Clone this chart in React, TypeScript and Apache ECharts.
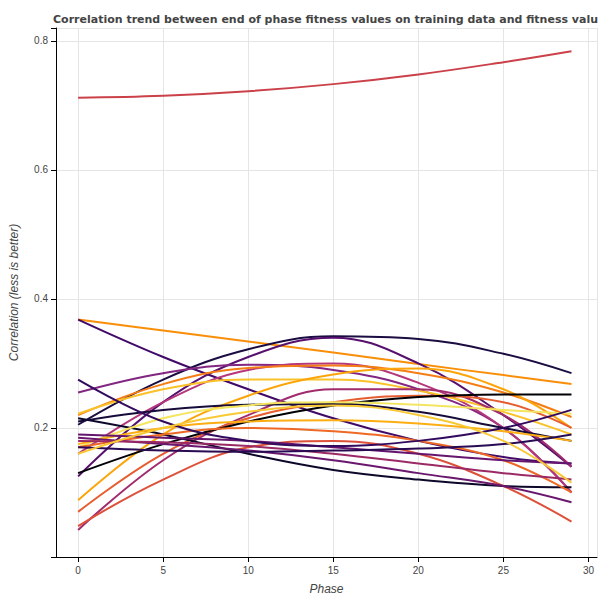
import React, { useEffect, useRef } from "react";
import * as echarts from "echarts";

const phases = [0, 5, 10, 15, 20, 25, 29];
const lineValues: number[][] = [
  [0.712, 0.715, 0.722, 0.733, 0.748, 0.767, 0.784],
  [0.368, 0.351, 0.334, 0.317, 0.299, 0.282, 0.268],
  [0.368, 0.31, 0.26, 0.215, 0.18, 0.155, 0.145],
  [0.205, 0.275, 0.322, 0.342, 0.338, 0.315, 0.285],
  [0.125, 0.24, 0.31, 0.34, 0.3, 0.22, 0.14],
  [0.255, 0.285, 0.298, 0.29, 0.26, 0.2, 0.1],
  [0.16, 0.24, 0.29, 0.3, 0.27, 0.2, 0.1],
  [0.22, 0.268, 0.293, 0.297, 0.285, 0.255, 0.217],
  [0.222, 0.26, 0.275, 0.275, 0.258, 0.225, 0.19],
  [0.088, 0.19, 0.25, 0.283, 0.292, 0.26, 0.2],
  [0.042, 0.15, 0.22, 0.26, 0.26, 0.22, 0.14],
  [0.07, 0.16, 0.215, 0.24, 0.25, 0.24, 0.2],
  [0.048, 0.12, 0.17, 0.18, 0.16, 0.11, 0.055],
  [0.13, 0.175, 0.21, 0.235, 0.248, 0.252, 0.252],
  [0.215, 0.19, 0.16, 0.135, 0.12, 0.11, 0.108],
  [0.21, 0.228, 0.236, 0.237, 0.225, 0.2, 0.18],
  [0.17, 0.215, 0.235, 0.24, 0.236, 0.228, 0.222],
  [0.175, 0.2, 0.21, 0.212, 0.207, 0.195, 0.18],
  [0.17, 0.19, 0.2, 0.195, 0.18, 0.15, 0.1],
  [0.19, 0.185, 0.18, 0.17, 0.16, 0.15, 0.145],
  [0.275, 0.21, 0.18, 0.172, 0.18, 0.2, 0.228],
  [0.185, 0.175, 0.165, 0.15, 0.13, 0.11, 0.085],
  [0.18, 0.178, 0.172, 0.16, 0.145, 0.13, 0.12],
  [0.17, 0.165, 0.163, 0.165, 0.168, 0.175, 0.19],
  [0.16, 0.2, 0.225, 0.235, 0.22, 0.18, 0.115],
];
const lineColors = [
  "#cb4149", "#f98e09", "#420a68", "#1b0c41", "#57106e", "#822681", "#b5367a",
  "#f57d15", "#fac228", "#fca50a", "#a02c6e", "#e65d2f", "#dd513a", "#000004",
  "#0d0829", "#160b39", "#f3e55d", "#fcae12", "#ed6925", "#65156e", "#320a5e",
  "#6a176e", "#9b2964", "#280b53", "#f8c932",
];

export default function App() {
  const ref = useRef<HTMLDivElement>(null);
  useEffect(() => {
    document.body.style.margin = "0";
    const chart = echarts.init(ref.current!, null, { renderer: "svg" });
    chart.setOption({
      animation: false,
      title: {
        text: "Correlation trend between end of phase fitness values on training data and fitness value on test data",
        left: 48, top: 9,
        textStyle: { fontSize: 11, fontWeight: "bold", color: "#444", fontFamily: "DejaVu Sans",
          width: 550, overflow: "truncate", ellipsis: "" },
      },
      grid: { left: 50, right: 3, top: 28, bottom: 43 },
      xAxis: {
        type: "value", min: -1.3, max: 30.5, splitNumber: 6,
        name: "Phase", nameLocation: "middle", nameGap: 26,
        nameTextStyle: { fontStyle: "italic", fontSize: 12, color: "#444" },
        axisLine: { show: true, onZero: false, lineStyle: { color: "#000" } },
        axisTick: { show: true, lineStyle: { color: "#000" } },
        axisLabel: { fontSize: 10, color: "#444", showMinLabel: false, showMaxLabel: false,
          formatter: (v: number) => (Number.isInteger(v) ? String(v) : "") },
        splitLine: { lineStyle: { color: "#e5e5e5" } },
      },
      yAxis: {
        type: "value", min: 0, max: 0.82, interval: 0.2,
        name: "Correlation (less is better)", nameLocation: "middle", nameGap: 36,
        nameTextStyle: { fontStyle: "italic", fontSize: 12, color: "#444" },
        axisLine: { show: true, onZero: false, lineStyle: { color: "#000" } },
        axisTick: { show: true, lineStyle: { color: "#000" } },
        axisLabel: { fontSize: 10, color: "#444",
          formatter: (v: number) => (v === 0 || v > 0.81 ? "" : v.toFixed(1)) },
        splitLine: { lineStyle: { color: "#e5e5e5" } },
      },
      series: lineValues.map((vals, i) => ({
        type: "line",
        data: phases.map((p, j) => [p, vals[j]]),
        smooth: 0.4,
        showSymbol: false,
        lineStyle: { width: 2, color: lineColors[i] },
      })),
    });
    return () => chart.dispose();
  }, []);
  return <div ref={ref} style={{ width: 600, height: 600 }} />;
}
